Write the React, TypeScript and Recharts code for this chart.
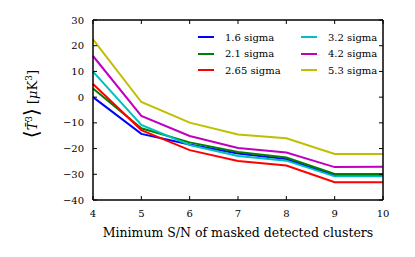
import { Legend, Line, LineChart, XAxis, YAxis } from 'recharts';

const snr = [4, 5, 6, 7, 8, 9, 10];
const sigma16 = [0, -14.3, -18.4, -21.9, -24.1, -30.5, -30.5];
const sigma21 = [3.4, -12.1, -17.6, -21.3, -23.5, -29.9, -29.9];
const sigma265 = [5.1, -12.8, -20.6, -24.8, -26.6, -33.1, -33.1];
const sigma32 = [9.9, -10.8, -18.6, -22.9, -24.7, -30.8, -30.8];
const sigma42 = [16, -7.3, -15.1, -19.8, -21.5, -27.2, -27.1];
const sigma53 = [22.5, -1.9, -9.9, -14.5, -16, -22.1, -22.1];

const xTicks = [4, 5, 6, 7, 8, 9, 10];
const yTicks = [-40, -30, -20, -10, 0, 10, 20, 30];

const SERIES = [
  { key: 's16', name: '1.6 sigma', color: '#0000ff', values: sigma16 },
  { key: 's21', name: '2.1 sigma', color: '#008000', values: sigma21 },
  { key: 's265', name: '2.65 sigma', color: '#ff0000', values: sigma265 },
  { key: 's32', name: '3.2 sigma', color: '#00bfbf', values: sigma32 },
  { key: 's42', name: '4.2 sigma', color: '#bf00bf', values: sigma42 },
  { key: 's53', name: '5.3 sigma', color: '#bfbf00', values: sigma53 },
];

const data = snr.map((x, i) => {
  const row: Record<string, number> = { x };
  SERIES.forEach((s) => (row[s.key] = s.values[i]));
  return row;
});

const FONT = '"DejaVu Serif", serif';
const minus = (v: number) => String(v).replace('-', '\u2212');
// top/right frame: tick marks only, no text
const noLabel = () => <g />;
const frame = { stroke: '#000', strokeWidth: 1.5 };

function LegendBox() {
  return (
    <div
      style={{
        display: 'grid',
        gridTemplateRows: 'repeat(3, 16.5px)',
        gridAutoFlow: 'column',
        gridTemplateColumns: '103px 90px',
        fontFamily: FONT,
        fontSize: 10,
        color: '#000',
      }}
    >
      {SERIES.map((s) => (
        <div key={s.key} style={{ display: 'flex', alignItems: 'center', whiteSpace: 'nowrap' }}>
          <svg width={16} height={4} style={{ marginRight: 11 }}>
            <line x1={0} y1={2} x2={16} y2={2} stroke={s.color} strokeWidth={2} />
          </svg>
          {s.name}
        </div>
      ))}
    </div>
  );
}

export default function App() {
  return (
    <div style={{ width: 415, height: 257, background: '#fff' }}>
      <style>{'body{margin:0}'}</style>
      <LineChart
        width={415}
        height={257}
        data={data}
        margin={{ top: 19, right: 31, bottom: 56, left: 92 }}
      >
        <XAxis
          dataKey="x"
          type="number"
          domain={[4, 10]}
          ticks={xTicks}
          height={1}
          tickSize={-4}
          tickMargin={14}
          tickLine={{ stroke: '#000' }}
          axisLine={frame}
          tick={{ fontFamily: FONT, fontSize: 10, fill: '#000' }}
          label={{
            content: () => (
              <text x={238} y={237} textAnchor="middle" fontFamily={FONT} fontSize={12.5} fill="#000">
                Minimum S/N of masked detected clusters
              </text>
            ),
          }}
        />
        <XAxis
          xAxisId="top"
          orientation="top"
          dataKey="x"
          type="number"
          domain={[4, 10]}
          allowDataOverflow
          ticks={xTicks}
          height={1}
          tickSize={-4}
          tickLine={{ stroke: '#000' }}
          axisLine={frame}
          tick={noLabel}
        />
        <YAxis
          type="number"
          domain={[-40, 30]}
          ticks={yTicks}
          width={1}
          tickSize={-4}
          tickMargin={13}
          tickLine={{ stroke: '#000' }}
          axisLine={frame}
          tickFormatter={minus}
          tick={{ fontFamily: FONT, fontSize: 10, fill: '#000' }}
          label={{
            content: () => (
              <text
                x={37}
                y={104}
                transform="rotate(-90 37 104)"
                textAnchor="middle"
                fontFamily={FONT}
                fontSize={13}
                fill="#000"
              >
                <tspan fontSize={20} dy={1}>{'\u27e8'}</tspan>
                <tspan fontStyle="italic" dy={-1}>{'T\u0304'}</tspan>
                <tspan fontSize={9} dy={-5}>3</tspan>
                <tspan fontSize={20} dy={6}>{'\u27e9'}</tspan>
                <tspan dy={-1}> [</tspan>
                <tspan fontStyle="italic">{'\u03bc'}</tspan>
                <tspan>K</tspan>
                <tspan fontSize={9} dy={-5}>3</tspan>
                <tspan dy={5}>]</tspan>
              </text>
            ),
          }}
        />
        <YAxis
          yAxisId="right"
          orientation="right"
          type="number"
          domain={[-40, 30]}
          allowDataOverflow
          ticks={yTicks}
          width={1}
          tickSize={-4}
          tickLine={{ stroke: '#000' }}
          axisLine={frame}
          tick={noLabel}
        />
        {SERIES.map((s) => (
          <Line
            key={s.key}
            dataKey={s.key}
            name={s.name}
            stroke={s.color}
            strokeWidth={2}
            dot={false}
            isAnimationActive={false}
          />
        ))}
        <Legend
          layout="vertical"
          align="center"
          verticalAlign="middle"
          wrapperStyle={{ top: 29, left: 198, width: 210 }}
          content={() => <LegendBox />}
        />
      </LineChart>
    </div>
  );
}
